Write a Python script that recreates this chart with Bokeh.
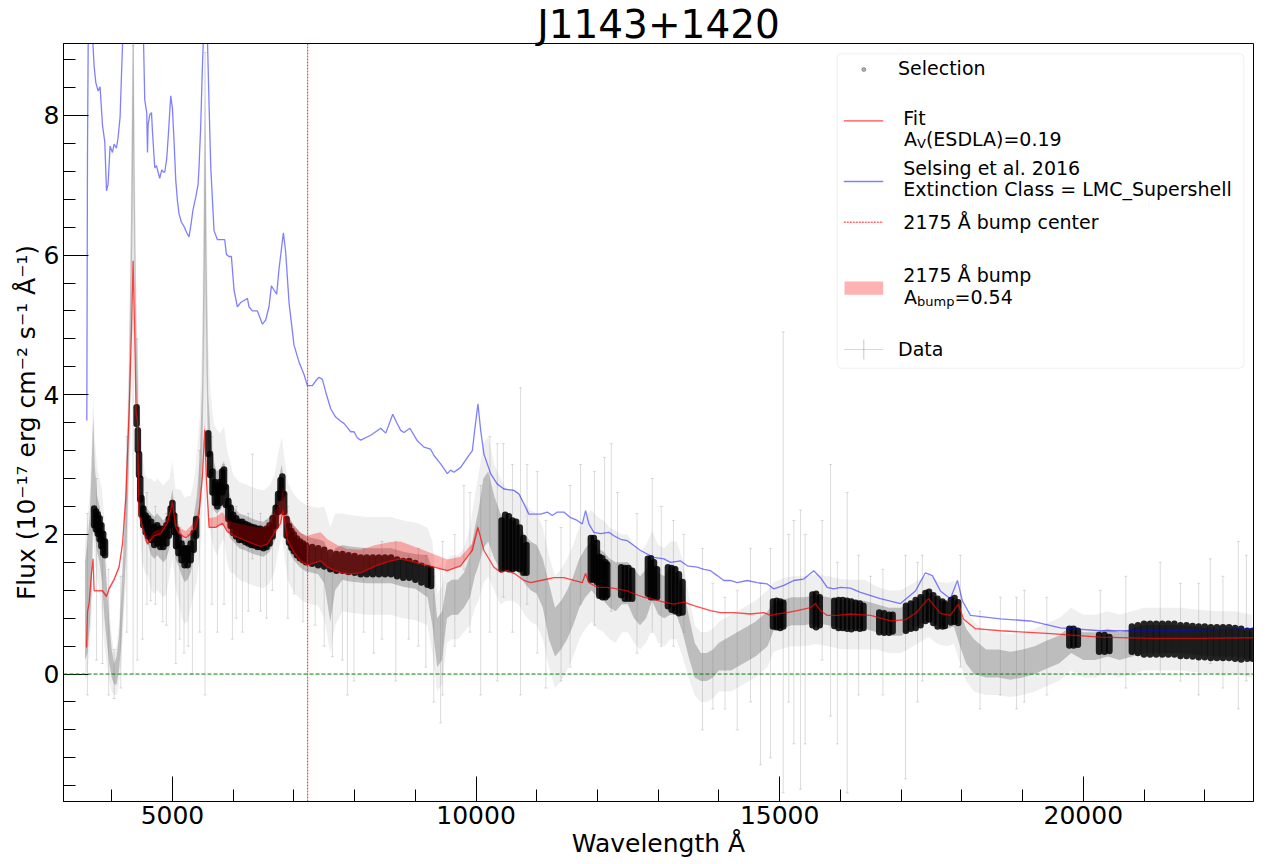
from bokeh.plotting import figure
from bokeh.models import Range1d, FixedTicker, Span, BoxAnnotation, Label, Title
from bokeh.embed import file_html
from bokeh.resources import INLINE

# ---------------- texts / ticks ----------------
TITLE = "J1143+1420"
X_LABEL = "Wavelength Å"
Y_LABEL = "Flux (10⁻¹⁷ erg cm⁻² s⁻¹ Å⁻¹)"
x_ticks = [5000, 10000, 15000, 20000]
x_minor_ticks = [4000, 6000, 7000, 8000, 9000, 11000, 12000, 13000, 14000,
                 16000, 17000, 18000, 19000, 21000, 22000]
y_ticks = [0, 2, 4, 6, 8]
y_minor_ticks = [-1.6, -1.2, -0.8, -0.4, 0.4, 0.8, 1.2, 1.6, 2.4, 2.8, 3.2, 3.6,
                 4.4, 4.8, 5.2, 5.6, 6.4, 6.8, 7.2, 7.6, 8.4, 8.8]
x_limits = (3206, 22803)
y_limits = (-1.825, 9.03)
bump_center_wl = 7227
av_esdla = "0.19"
a_bump = "0.54"

# ---------------- data ----------------
# observed spectrum, binned: (wavelength, flux, scatter of points, error-bar half length)
data_rows = [
    (3560, 0.9, 0.7, 1.0), (3600, 1.1, 0.8, 1.1), (3640, 1.5, 0.8, 1.1), (3670, 2.1, 0.9, 1.2),
    (3695, 3.0, 0.7, 1.0), (3720, 2.5, 0.5, 0.9), (3760, 2.15, 0.4, 0.8), (3800, 2.0, 0.4, 0.8),
    (3840, 1.75, 0.45, 0.9), (3880, 1.3, 0.5, 0.9), (3920, 0.85, 0.4, 0.7), (3960, 0.45, 0.3, 0.55),
    (4000, 0.15, 0.2, 0.4), (4040, 0.0, 0.15, 0.3), (4080, 0.05, 0.2, 0.35), (4120, 0.3, 0.25, 0.45),
    (4160, 0.8, 0.35, 0.6), (4200, 1.5, 0.4, 0.7), (4240, 2.3, 0.5, 0.9), (4280, 3.5, 0.6, 1.1),
    (4310, 5.0, 0.8, 1.5), (4335, 7.0, 1.0, 1.8), (4355, 8.6, 0.9, 1.6), (4375, 6.5, 0.9, 1.6),
    (4400, 4.6, 0.6, 1.2), (4430, 3.6, 0.4, 1.0), (4460, 3.0, 0.35, 0.9), (4500, 2.4, 0.3, 0.8),
    (4550, 2.15, 0.25, 0.7), (4600, 2.1, 0.25, 0.7), (4650, 2.0, 0.3, 0.8), (4700, 1.95, 0.3, 0.8),
    (4750, 2.0, 0.3, 0.8), (4800, 1.95, 0.3, 0.8), (4850, 1.9, 0.3, 0.8), (4900, 1.95, 0.3, 0.8),
    (4950, 2.1, 0.3, 0.7), (5000, 2.35, 0.3, 0.7), (5050, 1.95, 0.3, 0.7), (5100, 1.85, 0.3, 0.8),
    (5150, 1.72, 0.3, 0.9), (5200, 1.62, 0.3, 0.9), (5250, 1.65, 0.3, 0.9), (5300, 1.75, 0.3, 0.8),
    (5350, 1.95, 0.3, 0.8), (5400, 2.2, 0.35, 0.9), (5450, 2.7, 0.4, 1.0), (5490, 3.6, 0.6, 1.3),
    (5515, 5.3, 1.0, 2.0), (5537, 7.3, 1.0, 2.0), (5560, 5.3, 0.9, 1.8), (5590, 3.5, 0.5, 1.2),
    (5630, 3.0, 0.4, 1.0), (5680, 2.7, 0.35, 0.9), (5730, 2.6, 0.3, 0.9), (5790, 2.65, 0.3, 0.8),
    (5850, 2.75, 0.3, 0.8), (5900, 2.4, 0.3, 0.8), (5950, 2.25, 0.3, 0.8), (6000, 2.15, 0.25, 0.7),
    (6100, 2.05, 0.25, 0.7), (6200, 2.02, 0.25, 0.7), (6300, 1.98, 0.25, 0.7), (6400, 1.95, 0.25, 0.7),
    (6500, 1.93, 0.25, 0.7), (6600, 2.0, 0.25, 0.7), (6680, 2.15, 0.25, 0.7), (6740, 2.45, 0.3, 0.7),
    (6800, 2.7, 0.3, 0.7), (6850, 2.35, 0.3, 0.7), (6900, 2.05, 0.25, 0.7), (6950, 1.95, 0.25, 0.7),
    (7000, 1.88, 0.25, 0.7), (7100, 1.78, 0.25, 0.7), (7200, 1.72, 0.25, 0.7), (7300, 1.70, 0.25, 0.7),
    (7400, 1.68, 0.25, 0.7), (7500, 1.6, 0.3, 0.8), (7600, 1.2, 0.45, 0.9), (7680, 1.5, 0.3, 0.8),
    (7800, 1.6, 0.25, 0.7), (7900, 1.58, 0.25, 0.7), (8000, 1.57, 0.25, 0.7), (8200, 1.55, 0.25, 0.7),
    (8400, 1.55, 0.25, 0.7), (8600, 1.55, 0.25, 0.7), (8800, 1.5, 0.25, 0.7), (9000, 1.47, 0.25, 0.7),
    (9200, 1.4, 0.3, 0.7), (9280, 1.1, 0.4, 0.8), (9360, 0.45, 0.35, 0.7), (9440, 0.55, 0.35, 0.7),
    (9520, 1.05, 0.25, 0.6), (9600, 1.1, 0.25, 0.6), (9700, 1.1, 0.25, 0.6), (9800, 1.2, 0.25, 0.6),
    (9900, 1.4, 0.3, 0.7), (9980, 1.75, 0.35, 0.8), (10040, 1.95, 0.4, 0.9), (10120, 2.3, 0.5, 1.0),
    (10200, 2.4, 0.5, 1.0), (10300, 2.1, 0.45, 0.9), (10400, 1.9, 0.4, 0.9), (10500, 1.85, 0.35, 0.8),
    (10600, 1.85, 0.35, 0.8), (10700, 1.8, 0.35, 0.8), (10800, 1.65, 0.35, 0.8), (10900, 1.55, 0.35, 0.8),
    (11000, 1.5, 0.35, 0.8), (11100, 1.3, 0.35, 0.8), (11200, 0.9, 0.4, 0.8), (11300, 0.6, 0.35, 0.8),
    (11400, 0.7, 0.35, 0.8), (11500, 0.85, 0.35, 0.8), (11600, 1.05, 0.35, 0.8), (11700, 1.3, 0.35, 0.8),
    (11800, 1.45, 0.35, 0.8), (11900, 1.55, 0.35, 0.8), (12000, 1.45, 0.35, 0.8), (12100, 1.4, 0.35, 0.8),
    (12200, 1.3, 0.35, 0.8), (12300, 1.25, 0.35, 0.8), (12400, 1.3, 0.3, 0.7), (12500, 1.3, 0.3, 0.7),
    (12600, 1.15, 0.35, 0.7), (12700, 1.05, 0.35, 0.7), (12800, 1.15, 0.35, 0.7), (12900, 1.35, 0.3, 0.7),
    (13000, 1.15, 0.3, 0.7), (13100, 1.1, 0.3, 0.7), (13200, 1.2, 0.35, 0.7), (13300, 1.2, 0.35, 0.7),
    (13400, 0.95, 0.35, 0.7), (13500, 0.55, 0.3, 0.6), (13600, 0.2, 0.25, 0.5), (13700, 0.1, 0.2, 0.5),
    (13800, 0.1, 0.2, 0.5), (13900, 0.15, 0.2, 0.5), (14000, 0.25, 0.2, 0.5), (14200, 0.3, 0.25, 0.55),
    (14400, 0.4, 0.25, 0.55), (14600, 0.5, 0.25, 0.55), (14800, 0.65, 0.25, 0.55), (14900, 0.82, 0.2, 0.5),
    (15000, 0.85, 0.2, 0.5), (15200, 0.9, 0.2, 0.5), (15400, 0.9, 0.2, 0.5), (15600, 0.93, 0.2, 0.5),
    (15800, 0.9, 0.2, 0.5), (16000, 0.86, 0.2, 0.5), (16200, 0.85, 0.2, 0.5), (16400, 0.85, 0.2, 0.5),
    (16600, 0.8, 0.2, 0.45), (16800, 0.75, 0.2, 0.45), (17000, 0.75, 0.2, 0.45), (17200, 0.85, 0.2, 0.45),
    (17450, 0.98, 0.2, 0.45), (17600, 0.88, 0.2, 0.45), (17750, 0.85, 0.2, 0.45), (17870, 0.88, 0.2, 0.45),
    (17970, 0.65, 0.25, 0.5), (18070, 0.4, 0.25, 0.5), (18200, 0.25, 0.25, 0.5), (18400, 0.15, 0.2, 0.45),
    (18600, 0.15, 0.2, 0.45), (18800, 0.12, 0.2, 0.45), (19000, 0.15, 0.2, 0.45), (19200, 0.2, 0.2, 0.45),
    (19400, 0.28, 0.2, 0.45), (19600, 0.35, 0.2, 0.45), (19800, 0.5, 0.2, 0.45), (20000, 0.4, 0.2, 0.45),
    (20200, 0.4, 0.2, 0.45), (20400, 0.45, 0.2, 0.45), (20600, 0.4, 0.2, 0.45), (20800, 0.45, 0.2, 0.45),
    (21000, 0.5, 0.2, 0.45), (21300, 0.5, 0.2, 0.45), (21600, 0.5, 0.2, 0.45), (21900, 0.47, 0.2, 0.45),
    (22200, 0.45, 0.2, 0.45), (22500, 0.45, 0.2, 0.45), (22780, 0.4, 0.2, 0.45),
]

# individual long error bars of the data: (wavelength, flux, error)
spike_rows = [
    (3600, 1.0, 1.3), (3750, 1.5, 1.3), (3850, 1.2, 1.05), (3950, 0.6, 0.9), (4040, 0.0, 0.35),
    (4150, 0.6, 0.8), (4250, 2.0, 1.4), (4352, 4.5, 4.5), (4420, 2.5, 2.3), (4506, 1.5, 1.0),
    (4580, 1.8, 0.8), (4643, 1.6, 0.55), (4720, 1.7, 0.7), (4840, 1.4, 0.65), (4900, 1.5, 0.8),
    (5055, 1.1, 0.95), (5120, 1.3, 0.8), (5191, 1.0, 0.7), (5260, 1.2, 0.8), (5329, 1.0, 1.0),
    (5450, 1.9, 1.3), (5537, 4.3, 4.6), (5650, 2.2, 1.2), (5741, 1.6, 1.0), (5850, 2.0, 1.0),
    (5988, 1.3, 0.8), (6050, 1.6, 0.8), (6153, 1.4, 0.8), (6250, 1.6, 0.7), (6317, 2.4, 0.75),
    (6450, 1.6, 0.7), (6550, 1.5, 0.7), (6646, 1.7, 0.5), (6900, 1.6, 0.8), (7002, 1.6, 0.45),
    (7150, 1.35, 0.6), (7350, 1.3, 0.6), (7500, 1.1, 0.7), (7634, 0.9, 0.65), (7798, 0.9, 0.7),
    (7881, 0.7, 1.0), (7990, 0.8, 0.9), (8150, 1.2, 0.6), (8314, 1.0, 0.7), (8450, 1.2, 0.7),
    (8678, 0.9, 1.0), (8892, 1.1, 0.6), (9050, 1.1, 0.7), (9172, 0.9, 0.8), (9304, 0.5, 0.9),
    (9417, 0.4, 1.1), (9450, 0.8, 1.1), (9650, 1.2, 0.8), (9800, 2.1, 0.6), (9900, 1.6, 1.0),
    (10076, 1.2, 1.5), (10228, 2.0, 1.4), (10350, 1.6, 1.7), (10450, 2.2, 1.1), (10600, 1.8, 1.2),
    (10733, 1.9, 2.2), (10840, 2.0, 1.0), (11009, 1.6, 1.3), (11150, 1.0, 1.2), (11400, 1.0, 1.1),
    (11550, 1.4, 1.3), (11721, 2.0, 1.0), (11950, 1.8, 1.1), (12117, 2.2, 0.9), (12227, 2.1, 1.2),
    (12330, 1.9, 0.7), (12650, 1.3, 1.0), (12902, 1.7, 1.1), (13050, 1.4, 1.0), (13250, 1.3, 0.9),
    (13422, 1.3, 0.7), (13729, 0.5, 1.3), (13900, 0.4, 0.9), (14100, 0.3, 0.8), (14300, 0.2, 1.0),
    (14520, 0.7, 1.1), (14684, 0.0, 1.3), (14849, 0.3, 1.5), (15058, 1.6, 3.3), (15150, 0.8, 1.2),
    (15233, 0.6, 1.6), (15343, 0.35, 2.0), (15420, 0.5, 1.5), (15700, 1.2, 1.0), (15838, 1.2, 1.8),
    (15950, 0.3, 1.3), (16112, 0.45, 2.15), (16300, 0.7, 1.0), (16497, 0.7, 0.7), (16700, 0.6, 0.9),
    (17072, 0.1, 1.6), (17270, 0.6, 1.0), (17350, 0.8, 0.9), (17977, 0.9, 0.8), (18300, 0.2, 0.7),
    (18635, 0.4, 0.7), (18900, 0.3, 0.8), (19030, 0.4, 0.8), (19400, 0.4, 0.7), (20281, 0.6, 0.6),
    (20700, 0.6, 0.8), (21268, 0.8, 0.8), (21600, 0.6, 0.7), (21900, 0.5, 0.8), (22092, 0.9, 0.75),
    (22300, 0.6, 0.8), (22553, 0.7, 1.2), (22685, 0.8, 0.9),
]

# selected points: (wavelength, flux, spread)
selection_rows = [
    (3710, 2.25, 0.12), (3740, 2.2, 0.13), (3770, 2.15, 0.14), (3800, 2.08, 0.15), (3830, 1.98, 0.15),
    (3860, 1.87, 0.14), (3890, 1.8, 0.1),
    (4410, 3.7, 0.12), (4430, 3.35, 0.14), (4450, 3.0, 0.15), (4470, 2.65, 0.15), (4490, 2.4, 0.12),
    (4520, 2.25, 0.12), (4560, 2.15, 0.12), (4600, 2.1, 0.13), (4650, 2.05, 0.13), (4700, 1.98, 0.13),
    (4750, 2.0, 0.13), (4800, 1.95, 0.13), (4850, 1.95, 0.13), (4900, 2.0, 0.13), (4940, 2.1, 0.12),
    (4970, 2.25, 0.12), (5000, 2.35, 0.1), (5030, 2.15, 0.12),
    (5060, 1.95, 0.12), (5100, 1.85, 0.12), (5150, 1.75, 0.12), (5200, 1.68, 0.12), (5250, 1.68, 0.12),
    (5300, 1.75, 0.12), (5350, 1.9, 0.12), (5390, 2.1, 0.12),
    (5590, 3.3, 0.15), (5620, 3.0, 0.15), (5660, 2.75, 0.15), (5700, 2.6, 0.15), (5740, 2.55, 0.15),
    (5780, 2.6, 0.15), (5820, 2.75, 0.15), (5850, 2.8, 0.13), (5880, 2.55, 0.13), (5920, 2.35, 0.13),
    (5960, 2.25, 0.13),
    (6000, 2.15, 0.13), (6050, 2.1, 0.13), (6100, 2.05, 0.13), (6150, 2.05, 0.13), (6200, 2.02, 0.13),
    (6250, 2.0, 0.13), (6300, 1.98, 0.13), (6350, 1.97, 0.13), (6400, 1.95, 0.13), (6450, 1.95, 0.13),
    (6500, 1.93, 0.13), (6550, 1.95, 0.13), (6600, 2.0, 0.13), (6650, 2.1, 0.13),
    (6700, 2.25, 0.13), (6740, 2.45, 0.13), (6780, 2.65, 0.13), (6810, 2.7, 0.13), (6840, 2.45, 0.13),
    (6880, 2.1, 0.12), (6920, 2.0, 0.12), (6960, 1.93, 0.12), (7000, 1.88, 0.12), (7050, 1.82, 0.12),
    (7100, 1.78, 0.12), (7150, 1.75, 0.12), (7200, 1.72, 0.12), (7300, 1.7, 0.12), (7400, 1.68, 0.12),
    (7500, 1.66, 0.12), (7600, 1.62, 0.12), (7700, 1.6, 0.12), (7800, 1.6, 0.12), (7900, 1.58, 0.12),
    (8000, 1.57, 0.12), (8100, 1.55, 0.12), (8200, 1.55, 0.12), (8300, 1.55, 0.12), (8400, 1.55, 0.12),
    (8500, 1.55, 0.12), (8600, 1.55, 0.12), (8700, 1.52, 0.12), (8800, 1.5, 0.12), (8900, 1.5, 0.12),
    (9000, 1.47, 0.12), (9100, 1.43, 0.12), (9200, 1.4, 0.12), (9260, 1.38, 0.12),
    (10420, 1.85, 0.35), (10480, 1.9, 0.38), (10540, 1.88, 0.38), (10600, 1.85, 0.35), (10660, 1.85, 0.33),
    (10720, 1.8, 0.3), (10780, 1.7, 0.25), (10830, 1.65, 0.2),
    (11890, 1.65, 0.3), (11940, 1.65, 0.3), (11990, 1.6, 0.28), (12030, 1.4, 0.28), (12080, 1.38, 0.28),
    (12130, 1.35, 0.25), (12160, 1.35, 0.22),
    (12390, 1.33, 0.2), (12450, 1.3, 0.22), (12510, 1.3, 0.22), (12570, 1.28, 0.2),
    (12830, 1.4, 0.25), (12880, 1.38, 0.28), (12930, 1.35, 0.25), (12980, 1.3, 0.2),
    (13160, 1.25, 0.28), (13220, 1.22, 0.3), (13280, 1.2, 0.3), (13340, 1.15, 0.28), (13400, 1.1, 0.22),
    (14890, 0.86, 0.18), (14950, 0.86, 0.19), (15010, 0.85, 0.19), (15060, 0.85, 0.17),
    (15540, 0.92, 0.22), (15600, 0.91, 0.24), (15660, 0.9, 0.2),
    (15900, 0.87, 0.18), (15970, 0.86, 0.2), (16040, 0.86, 0.2), (16110, 0.85, 0.2), (16180, 0.84, 0.2),
    (16250, 0.84, 0.18), (16320, 0.83, 0.18), (16380, 0.82, 0.16),
    (16640, 0.74, 0.14), (16720, 0.73, 0.14), (16800, 0.72, 0.13), (16860, 0.73, 0.12),
    (17080, 0.8, 0.18), (17160, 0.83, 0.18), (17240, 0.86, 0.2), (17320, 0.9, 0.2), (17400, 0.96, 0.2),
    (17460, 0.98, 0.2), (17530, 0.93, 0.2), (17600, 0.88, 0.2), (17680, 0.86, 0.18), (17720, 0.85, 0.16),
    (17820, 0.9, 0.16), (17880, 0.92, 0.17), (17940, 0.88, 0.15),
    (19770, 0.53, 0.12), (19840, 0.53, 0.12), (19910, 0.52, 0.1),
    (20260, 0.44, 0.12), (20350, 0.44, 0.12), (20430, 0.43, 0.1),
    (20800, 0.5, 0.18), (20900, 0.5, 0.2), (21000, 0.5, 0.22), (21100, 0.5, 0.22), (21200, 0.5, 0.22),
    (21300, 0.5, 0.22), (21400, 0.5, 0.22), (21500, 0.5, 0.22), (21600, 0.48, 0.22), (21700, 0.48, 0.22),
    (21800, 0.47, 0.22), (21900, 0.46, 0.22), (22000, 0.46, 0.22), (22100, 0.45, 0.22), (22200, 0.45, 0.22),
    (22300, 0.45, 0.22), (22400, 0.45, 0.22), (22500, 0.44, 0.22), (22600, 0.43, 0.22), (22700, 0.42, 0.2),
    (22790, 0.42, 0.2),
]

# fitted model (wavelength, flux)
fit_rows = [
    (3585, 0.38), (3601, 0.89), (3627, 1.01), (3667, 1.44), (3693, 1.65), (3710, 1.19), (3766, 1.19),
    (3848, 1.19), (3914, 1.11), (3957, 1.22), (4039, 1.35), (4121, 1.53), (4177, 1.86), (4232, 2.53),
    (4286, 3.74), (4325, 4.89), (4352, 5.92), (4380, 4.83), (4401, 3.74), (4424, 3.62), (4450, 2.29),
    (4506, 2.10), (4589, 1.86), (4697, 1.98), (4808, 2.01), (4918, 2.16), (5000, 2.44), (5055, 2.10),
    (5109, 2.01), (5219, 1.95), (5301, 2.01), (5384, 2.10), (5438, 2.29), (5494, 2.83), (5532, 3.50),
    (5560, 2.77), (5603, 2.10), (5713, 2.10), (5823, 2.16), (5906, 2.04), (6014, 1.98), (6179, 1.92),
    (6344, 1.86), (6454, 1.83), (6564, 1.86), (6673, 2.01), (6783, 2.16), (6821, 2.35), (6893, 1.92),
    (7002, 1.74), (7112, 1.62), (7222, 1.56), (7331, 1.59), (7441, 1.62), (7552, 1.53), (7716, 1.47),
    (7881, 1.43), (8100, 1.45), (8347, 1.55), (8594, 1.62), (8759, 1.65), (9088, 1.58), (9527, 1.48),
    (9746, 1.55), (9939, 1.77), (10031, 2.10), (10130, 1.77), (10294, 1.53), (10404, 1.46), (10514, 1.48),
    (10651, 1.43), (10788, 1.34), (10898, 1.31), (11063, 1.34), (11282, 1.38), (11446, 1.38), (11611, 1.34),
    (11749, 1.31), (11804, 1.44), (11858, 1.31), (11996, 1.24), (12161, 1.24), (12326, 1.22), (12490, 1.19),
    (12599, 1.15), (12764, 1.10), (12928, 1.07), (13093, 1.03), (13258, 1.00), (13422, 1.03), (13587, 0.98),
    (13697, 0.95), (13861, 0.91), (14026, 0.88), (14245, 0.88), (14520, 0.86), (14739, 0.88), (14849, 0.84),
    (14959, 0.86), (15124, 0.88), (15288, 0.91), (15507, 0.95), (15589, 1.01), (15672, 0.91), (15782, 0.84),
    (15947, 0.84), (16166, 0.86), (16497, 0.84), (16826, 0.76), (17073, 0.78), (17236, 0.87), (17450, 1.08),
    (17647, 0.87), (17811, 0.84), (17943, 1.00), (18026, 0.79), (18223, 0.65), (18635, 0.62), (19458, 0.58),
    (20281, 0.53), (21104, 0.51), (21927, 0.51), (22800, 0.52),
]

# 2175 A bump contribution on top of the fit (wavelength, amplitude)
bump_rows = [
    (3693, 0.0), (3710, 0.01), (3766, 0.01), (3848, 0.02), (3914, 0.02), (3957, 0.03), (4039, 0.03),
    (4121, 0.04), (4177, 0.04), (4232, 0.04), (4286, 0.05), (4325, 0.05), (4352, 0.05), (4380, 0.05),
    (4401, 0.05), (4424, 0.05), (4450, 0.05), (4506, 0.05), (4589, 0.06), (4697, 0.06), (4808, 0.07),
    (4918, 0.08), (5000, 0.08), (5055, 0.09), (5109, 0.09), (5219, 0.10), (5301, 0.11), (5384, 0.11),
    (5438, 0.12), (5494, 0.12), (5532, 0.12), (5560, 0.13), (5603, 0.13), (5713, 0.15), (5823, 0.16),
    (5906, 0.17), (6014, 0.19), (6179, 0.22), (6344, 0.25), (6454, 0.27), (6564, 0.29), (6673, 0.31),
    (6783, 0.33), (6821, 0.34), (6893, 0.35), (7002, 0.38), (7112, 0.40), (7222, 0.42), (7331, 0.42),
    (7441, 0.41), (7552, 0.40), (7716, 0.38), (7881, 0.36), (8100, 0.33), (8347, 0.30), (8594, 0.27),
    (8759, 0.25), (9088, 0.21), (9527, 0.16), (9746, 0.13), (9939, 0.10), (10031, 0.05),
]

# Selsing et al. 2016 template (wavelength, flux)
selsing_rows = [
    (3590, 3.63), (3601, 7.44), (3618, 9.8), (3655, 9.6), (3710, 8.71), (3738, 8.47), (3776, 8.35),
    (3808, 8.41), (3848, 7.86), (3886, 7.62), (3914, 6.92), (3940, 7.01), (3973, 7.56), (4013, 7.47),
    (4039, 7.59), (4078, 7.53), (4105, 7.68), (4138, 7.98), (4166, 8.71), (4182, 9.1), (4260, 12.0),
    (4350, 15.0), (4440, 12.0), (4523, 9.1), (4544, 8.22), (4577, 8.04), (4589, 7.47), (4599, 7.86),
    (4627, 8.01), (4655, 8.04), (4671, 7.77), (4709, 7.25), (4737, 7.28), (4763, 7.19), (4791, 7.10),
    (4824, 7.22), (4852, 7.19), (4874, 7.19), (4906, 7.38), (4934, 7.74), (4972, 8.28), (5000, 8.10),
    (5027, 7.62), (5055, 7.07), (5083, 6.77), (5109, 6.59), (5148, 6.47), (5191, 6.41), (5236, 6.32),
    (5273, 6.26), (5301, 6.41), (5339, 6.65), (5384, 6.83), (5422, 7.01), (5438, 7.26), (5466, 7.86),
    (5494, 8.71), (5510, 9.1), (5540, 10.5), (5576, 9.1), (5603, 8.16), (5631, 7.26), (5685, 6.35),
    (5741, 6.22), (5823, 6.22), (5861, 6.22), (5889, 6.01), (5932, 5.98), (5971, 5.98), (6014, 5.50),
    (6070, 5.26), (6124, 5.32), (6179, 5.35), (6235, 5.38), (6261, 5.26), (6317, 5.20), (6399, 5.20),
    (6482, 5.01), (6536, 5.07), (6590, 5.26), (6630, 5.56), (6673, 5.50), (6717, 5.44), (6755, 5.80),
    (6827, 6.32), (6865, 6.04), (6920, 5.32), (7002, 4.71), (7084, 4.47), (7167, 4.29), (7222, 4.13),
    (7305, 4.13), (7359, 4.20), (7413, 4.25), (7469, 4.22), (7524, 4.04), (7606, 3.80), (7688, 3.68),
    (7771, 3.62), (7825, 3.59), (7881, 3.53), (7935, 3.47), (7990, 3.47), (8046, 3.38), (8100, 3.35),
    (8265, 3.42), (8430, 3.52), (8513, 3.45), (8628, 3.72), (8694, 3.60), (8759, 3.49), (8813, 3.46),
    (8911, 3.52), (9033, 3.34), (9142, 3.25), (9252, 3.22), (9307, 3.13), (9417, 3.01), (9527, 2.87),
    (9582, 2.92), (9636, 2.89), (9746, 2.96), (9856, 3.10), (9939, 3.20), (9977, 3.49), (10031, 3.87),
    (10076, 3.49), (10130, 3.15), (10240, 2.87), (10350, 2.72), (10459, 2.65), (10623, 2.63), (10706, 2.58),
    (10788, 2.44), (10870, 2.29), (11063, 2.29), (11173, 2.32), (11255, 2.27), (11338, 2.32), (11446, 2.32),
    (11557, 2.24), (11667, 2.20), (11749, 2.15), (11804, 2.34), (11858, 2.15), (11940, 2.03), (12050, 2.01),
    (12187, 2.03), (12270, 1.98), (12380, 1.93), (12490, 1.91), (12599, 1.84), (12709, 1.77), (12819, 1.72),
    (12928, 1.67), (13093, 1.65), (13203, 1.60), (13368, 1.62), (13478, 1.55), (13642, 1.53), (13751, 1.50),
    (13861, 1.48), (13971, 1.41), (14080, 1.34), (14190, 1.34), (14300, 1.31), (14465, 1.34), (14630, 1.31),
    (14795, 1.29), (14904, 1.22), (15068, 1.27), (15233, 1.34), (15397, 1.36), (15562, 1.48), (15672, 1.38),
    (15782, 1.24), (15891, 1.22), (16001, 1.24), (16166, 1.23), (16330, 1.17), (16659, 1.08), (16989, 1.01),
    (17236, 1.19), (17400, 1.45), (17515, 1.41), (17647, 1.19), (17811, 1.08), (17927, 1.34), (18009, 1.05),
    (18141, 0.84), (18635, 0.79), (19129, 0.76), (19623, 0.66), (20281, 0.62), (21104, 0.62), (21927, 0.63),
    (22800, 0.65),
]

data_wl, data_flux, data_scatter, data_err = (list(c) for c in zip(*data_rows))
spike_wl, spike_flux, spike_err = (list(c) for c in zip(*spike_rows))
sel_wl, sel_flux, sel_spread = (list(c) for c in zip(*selection_rows))
fit_wl, fit_flux = (list(c) for c in zip(*fit_rows))
bump_wl, bump_amp = (list(c) for c in zip(*bump_rows))
selsing_wl, selsing_flux = (list(c) for c in zip(*selsing_rows))

fit_lookup = dict(zip(fit_wl, fit_flux))
bump_lo = [fit_lookup[w] for w in bump_wl]
bump_hi = [fit_lookup[w] + a for w, a in zip(bump_wl, bump_amp)]


def minus(a, b):
    return [x - y for x, y in zip(a, b)]


def plus(a, b):
    return [x + y for x, y in zip(a, b)]


# ---------------- figure ----------------
W, H = 1272, 863
ML, MR, MT, MB = 63, 19, 43, 62
FONT = "DejaVu Sans"

p = figure(width=W, height=H, x_range=Range1d(*x_limits), y_range=Range1d(*y_limits),
           output_backend="svg", toolbar_location=None,
           min_border_left=ML, min_border_right=MR, min_border_top=MT, min_border_bottom=MB)
p.title = Title(text=TITLE, align="center", text_font=FONT, text_font_size="39px",
                text_font_style="normal", text_color="black", standoff=-6)
p.background_fill_color = "white"
p.border_fill_color = "white"
p.outline_line_color = "black"
p.outline_line_width = 1
p.xgrid.visible = False
p.ygrid.visible = False

# page-pixel -> data helpers (for legend placement); the page has no margin
FL, FT = ML, MT
FW, FH = W - ML - MR, H - MT - MB


def dx(px):
    return x_limits[0] + (px - FL) * (x_limits[1] - x_limits[0]) / FW


def dy(py):
    return y_limits[1] - (py - FT) * (y_limits[1] - y_limits[0]) / FH


# data: error envelope, point cloud, long error bars
p.varea(x=data_wl, y1=minus(data_flux, data_err), y2=plus(data_flux, data_err),
        fill_color="gray", fill_alpha=0.13)
p.varea(x=data_wl, y1=minus(data_flux, data_scatter), y2=plus(data_flux, data_scatter),
        fill_color="gray", fill_alpha=0.45)
p.segment(x0=spike_wl, y0=minus(spike_flux, spike_err), x1=spike_wl, y1=plus(spike_flux, spike_err),
          line_color="gray", line_alpha=0.28, line_width=1)
p.scatter(spike_wl + spike_wl, minus(spike_flux, spike_err) + plus(spike_flux, spike_err),
          marker="dash", size=3, line_color="gray", line_alpha=0.28)

# selection
p.segment(x0=sel_wl, y0=minus(sel_flux, sel_spread), x1=sel_wl, y1=plus(sel_flux, sel_spread),
          line_color="black", line_alpha=0.85, line_width=6.5, line_cap="round")

# fit, bump, template
p.line(fit_wl, fit_flux, line_color="red", line_alpha=0.7, line_width=1.3)
p.varea(x=bump_wl, y1=bump_lo, y2=bump_hi, fill_color="red", fill_alpha=0.3)
p.line(selsing_wl, selsing_flux, line_color="blue", line_alpha=0.5, line_width=1.3)

p.add_layout(Span(location=0, dimension="width", line_color="green", line_dash="4 2", line_width=1))
p.add_layout(Span(location=bump_center_wl, dimension="height", line_color="red", line_alpha=0.85,
                  line_dash="2 1", line_width=1))

# axes
p.xaxis.ticker = FixedTicker(ticks=x_ticks, minor_ticks=x_minor_ticks)
p.yaxis.ticker = FixedTicker(ticks=y_ticks, minor_ticks=y_minor_ticks)
for ax in (p.xaxis[0], p.yaxis[0]):
    ax.major_tick_in = 25
    ax.major_tick_out = 0
    ax.minor_tick_in = 12
    ax.minor_tick_out = 0
    ax.axis_line_color = "black"
    ax.major_tick_line_color = "black"
    ax.minor_tick_line_color = "black"
    ax.major_label_text_font = FONT
    ax.major_label_text_font_size = "25px"
    ax.major_label_text_color = "black"
    ax.axis_label_text_font = FONT
    ax.axis_label_text_font_size = "25px"
    ax.axis_label_text_font_style = "normal"
    ax.axis_label_text_color = "black"
p.xaxis.major_label_standoff = 4
p.yaxis.major_label_standoff = 4
p.xaxis.axis_label = X_LABEL
p.xaxis.axis_label_standoff = 2
p.yaxis.axis_label = Y_LABEL
p.yaxis.axis_label_standoff = 0

# ---------------- legend ----------------
p.add_layout(BoxAnnotation(left=dx(836.7), right=dx(1243.3), top=dy(53.3), bottom=dy(367.7),
                           fill_color="white", fill_alpha=0.8, line_color="#cccccc",
                           line_width=1, border_radius=4))
hx0, hx1, hxc = dx(843.3), dx(882.7), dx(863.3)
p.scatter([hxc], [dy(69)], size=4, color="black", alpha=0.3, level="overlay")
p.line([hx0, hx1], [dy(120.3), dy(120.3)], line_color="red", line_alpha=0.7, line_width=1.3, level="overlay")
p.line([hx0, hx1], [dy(181), dy(181)], line_color="blue", line_alpha=0.5, line_width=1.3, level="overlay")
p.line([hx0, hx1], [dy(221.7), dy(221.7)], line_color="red", line_alpha=0.85, line_dash="2 1",
       line_width=1, level="overlay")
p.quad(left=[dx(844)], right=[hx1], top=[dy(281)], bottom=[dy(294.3)], fill_color="red",
       fill_alpha=0.3, line_color=None, level="overlay")
p.line([hx0, hx1], [dy(349), dy(349)], line_color="gray", line_alpha=0.3, line_width=1, level="overlay")
p.segment(x0=[hxc], y0=[dy(339)], x1=[hxc], y1=[dy(359)], line_color="gray", line_alpha=0.45,
          line_width=1, level="overlay")

LEG_SHIFT = -8


def leg_text(px, py, txt, size="19px"):
    p.add_layout(Label(x=dx(px), y=dy(py + LEG_SHIFT), text=txt, text_align="left",
                       text_baseline="alphabetic", text_font=FONT, text_font_size=size,
                       text_color="black"))


leg_text(897.5, 75.7, "Selection")
leg_text(902.8, 125.7, "Fit")
leg_text(903.5, 146.7, "A")
leg_text(916.5, 150.5, "V", "13px")
leg_text(925.4, 146.7, "(ESDLA)=" + av_esdla)
leg_text(902.8, 175, "Selsing et al. 2016")
leg_text(902.8, 196.7, "Extinction Class = LMC_Supershell")
leg_text(902.8, 229.3, "2175 Å bump center")
leg_text(902.8, 282.3, "2175 Å bump")
leg_text(903.5, 304.5, "A")
leg_text(916.5, 308.5, "bump", "13px")
leg_text(954.0, 304.5, "=" + a_bump)
leg_text(897.5, 356, "Data")

open("out.html", "w").write(file_html(p, INLINE))
